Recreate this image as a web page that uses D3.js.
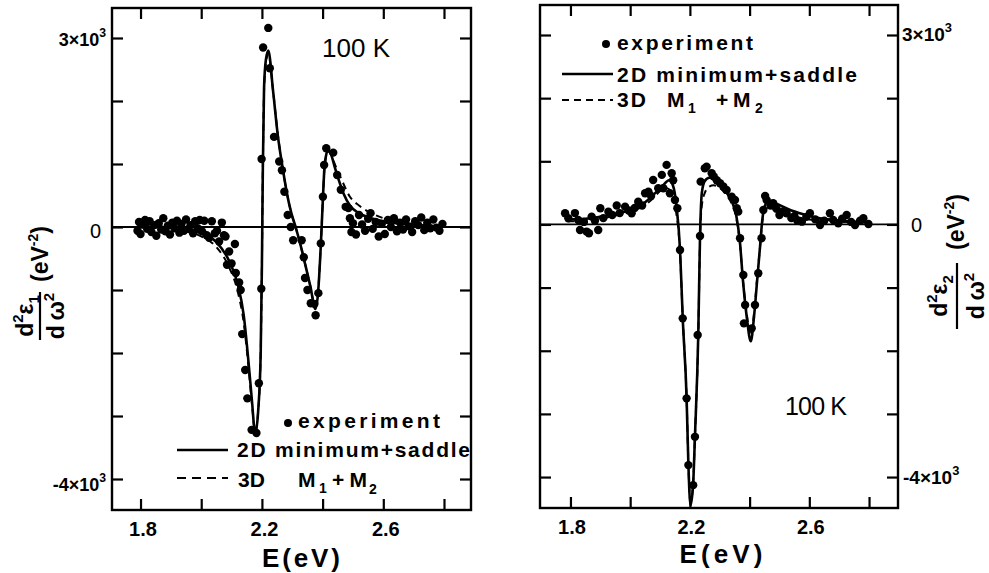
<!DOCTYPE html>
<html>
<head>
<meta charset="utf-8">
<script src="https://cdn.jsdelivr.net/npm/d3@7"></script>
<style>
  body { margin: 0; background: #fff; }
  svg { display: block; }
  text { font-family: "Liberation Sans", "DejaVu Sans", sans-serif; fill: #000; }
</style>
</head>
<body>
<div id="chart"></div>
<script>
// ---- data ----
// d2eps1/dw2, left panel: [E (eV), value (eV^-2)]
const eps1Exp = [
  [1.79,-60],[1.795,80],[1.80,-110],[1.808,40],[1.815,110],[1.822,-30],[1.83,90],[1.836,-80],
  [1.845,30],[1.852,-140],[1.86,60],[1.868,-40],[1.875,140],[1.882,-70],[1.89,20],[1.897,-120],
  [1.905,70],[1.912,-20],[1.92,100],[1.928,-90],[1.935,50],[1.943,-60],[1.95,120],[1.958,-30],
  [1.965,30],[1.973,-100],[1.98,90],[1.988,-20],[1.995,110],[2.003,-70],[2.01,100],[2.018,-130],
  [2.026,-170],[2.035,90],[2.045,-100],[2.052,-60],[2.059,-230],[2.068,70],[2.075,-130],
  [2.08,-150],[2.085,-600],[2.092,-390],[2.1,-580],[2.111,-270],[2.114,-730],[2.125,-880],
  [2.13,-1000],[2.135,-1700],[2.145,-2270],[2.152,-2720],[2.166,-3220],[2.182,-3270],
  [2.19,-2480],[2.198,-980],[2.199,1080],[2.204,2850],[2.221,3160],[2.226,2520],
  [2.24,1430],[2.257,1040],[2.266,900],[2.274,560],[2.285,190],[2.295,0],[2.303,-210],[2.331,-210],
  [2.338,-480],[2.342,-810],[2.35,-1000],[2.361,-1210],[2.373,-1220],[2.377,-1400],[2.386,-1050],
  [2.394,-260],[2.401,480],[2.405,985],[2.412,1250],[2.435,1180],[2.448,825],[2.46,590],
  [2.476,320],[2.485,300],[2.49,140],[2.495,-80],[2.5,60],[2.51,-120],[2.52,190],[2.53,40],
  [2.54,-60],[2.55,130],[2.558,220],[2.565,-30],[2.575,80],[2.585,-150],[2.595,50],[2.605,-110],
  [2.615,110],[2.625,0],[2.635,140],[2.645,-70],[2.655,70],[2.665,-40],[2.675,120],[2.685,10],
  [2.695,-80],[2.705,90],[2.715,30],[2.725,150],[2.735,-50],[2.745,70],[2.755,-20],[2.765,120],
  [2.775,-10],[2.785,-60],[2.795,50]
];
const eps1Fit2D = [
  [1.79,0],[1.85,0],[1.9,-10],[1.95,-40],[2.0,-100],[2.05,-240],[2.09,-520],[2.12,-900],
  [2.14,-1400],[2.155,-2100],[2.167,-2750],[2.178,-3280],[2.188,-2900],[2.196,-2000],[2.2,-600],
  [2.203,900],[2.207,2200],[2.213,2650],[2.221,2800],[2.237,2150],[2.253,1430],[2.268,950],
  [2.283,520],[2.297,220],[2.311,0],[2.327,-280],[2.343,-600],[2.36,-950],[2.376,-1300],
  [2.385,-1050],[2.394,-300],[2.401,450],[2.407,1000],[2.418,1220],[2.428,1150],[2.44,950],
  [2.455,720],[2.47,520],[2.49,340],[2.52,220],[2.56,140],[2.6,90],[2.65,55],[2.7,35],
  [2.75,20],[2.8,10]
];
const eps1Fit3D = [
  [1.79,0],[1.85,-10],[1.9,-25],[1.95,-65],[2.0,-150],[2.05,-320],[2.09,-620],[2.12,-1020],
  [2.14,-1520],[2.155,-2180],[2.167,-2800],[2.178,-3250],[2.188,-2900],[2.196,-2000],[2.2,-600],
  [2.203,900],[2.207,2150],[2.213,2600],[2.221,2750],[2.237,2150],[2.253,1450],[2.268,950],
  [2.283,520],[2.297,220],[2.311,0],[2.327,-280],[2.343,-600],[2.36,-950],[2.376,-1270],
  [2.385,-1030],[2.394,-300],[2.401,450],[2.407,980],[2.418,1200],[2.428,1150],[2.44,1000],
  [2.46,780],[2.49,480],[2.52,340],[2.56,220],[2.6,140],[2.65,85],[2.7,50],[2.75,35],[2.8,25]
];

// d2eps2/dw2, right panel
const eps2Exp = [
  [1.782,177],[1.793,98],[1.815,180],[1.826,71],[1.832,-87],[1.845,40],[1.854,-113],[1.862,-140],
  [1.871,124],[1.882,60],[1.893,-87],[1.9,257],[1.91,100],[1.927,203],[1.94,150],[1.955,300],
  [1.965,180],[1.983,282],[1.995,220],[2.005,177],[2.015,260],[2.027,361],[2.04,300],[2.05,494],
  [2.061,520],[2.07,450],[2.077,705],[2.094,574],[2.106,785],[2.111,574],[2.122,943],[2.133,494],
  [2.139,811],[2.144,700],[2.15,388],[2.158,257],[2.167,-404],[2.176,-1487],[2.189,-2754],
  [2.195,-3811],[2.211,-4128],[2.217,-3363],[2.226,-1751],[2.234,-182],[2.236,678],[2.25,890],
  [2.256,916],[2.273,811],[2.28,760],[2.29,700],[2.301,653],[2.312,600],[2.323,547],[2.34,441],
  [2.351,388],[2.357,257],[2.362,203],[2.368,-219],[2.379,-800],[2.385,-1276],[2.381,-1566],
  [2.407,-1645],[2.418,-1276],[2.429,-773],[2.44,-219],[2.446,230],[2.452,450],[2.457,388],
  [2.47,300],[2.479,336],[2.49,250],[2.5,150],[2.51,200],[2.524,177],[2.54,100],[2.55,130],
  [2.56,60],[2.575,44],[2.59,120],[2.602,177],[2.62,80],[2.636,-8],[2.65,60],[2.669,177],
  [2.68,70],[2.697,19],[2.71,90],[2.725,150],[2.74,40],[2.753,-8],[2.77,60],[2.781,98],[2.798,8]
];
const eps2Fit2D = [
  [1.79,80],[1.85,90],[1.9,120],[1.95,170],[2.0,230],[2.05,350],[2.08,480],[2.11,620],[2.13,700],
  [2.143,620],[2.155,300],[2.167,-400],[2.176,-1480],[2.189,-2750],[2.195,-3800],[2.202,-4450],
  [2.211,-4100],[2.217,-3350],[2.228,-1760],[2.234,-180],[2.24,500],[2.25,690],[2.265,740],
  [2.28,720],[2.3,640],[2.32,520],[2.34,370],[2.355,150],[2.367,-250],[2.378,-900],[2.39,-1450],
  [2.404,-1850],[2.415,-1450],[2.425,-900],[2.435,-350],[2.442,50],[2.45,280],[2.465,380],
  [2.49,330],[2.53,240],[2.58,160],[2.63,100],[2.7,60],[2.8,30]
];
const eps2Fit3D = [
  [1.79,50],[1.85,60],[1.9,90],[1.95,140],[2.0,200],[2.05,310],[2.08,430],[2.1,530],[2.12,580],
  [2.137,520],[2.152,250],[2.167,-450],[2.176,-1480],[2.189,-2750],[2.195,-3800],[2.202,-4400],
  [2.211,-4080],[2.217,-3350],[2.228,-1780],[2.234,-250],[2.24,300],[2.25,500],[2.265,600],
  [2.28,620],[2.3,580],[2.32,480],[2.34,330],[2.355,110],[2.367,-280],[2.378,-900],[2.39,-1400],
  [2.404,-1760],[2.415,-1400],[2.425,-860],[2.435,-350],[2.442,20],[2.45,200],[2.46,260],
  [2.5,200],[2.55,130],[2.6,80],[2.7,45],[2.8,20]
];

const xTicks = [1.8, 2.0, 2.2, 2.4, 2.6, 2.8];
const xTickLabels = ["1.8", "", "2.2", "", "2.6", ""];
const yTicks = [-4000, -3000, -2000, -1000, 0, 1000, 2000, 3000];

const svg = d3.select("#chart")
  .append("svg")
  .attr("width", 989)
  .attr("height", 573);

function addText(g, x, y, str, size, opts = {}) {
  const t = g.append("text")
    .attr("x", x).attr("y", y)
    .attr("font-size", size)
    .attr("font-weight", opts.weight || "bold")
    .attr("text-anchor", opts.anchor || "start")
    .text(str);
  if (opts.len) t.attr("textLength", opts.len).attr("lengthAdjust", "spacing");
  return t;
}

// "3x10^3" style label
function sciLabel(g, x, y, mant, anchor, size) {
  const t = g.append("text")
    .attr("x", x).attr("y", y)
    .attr("font-size", size)
    .attr("font-weight", "bold")
    .attr("text-anchor", anchor);
  t.append("tspan").text(mant + "\u00d710");
  t.append("tspan").attr("dy", -9).attr("font-size", size * 0.68).text("3");
}

function panel(cfg) {
  const g = svg.append("g");
  const x = d3.scaleLinear().domain(cfg.xDomain).range([cfg.left, cfg.right]);
  const y = d3.scaleLinear().domain(cfg.yDomain).range([cfg.bottom, cfg.top]);

  // axes, ticks pointing inward on all four sides
  g.append("g").attr("class", "axis")
    .attr("transform", `translate(0,${cfg.bottom})`)
    .call(d3.axisBottom(x).tickValues(xTicks).tickSize(-11).tickSizeOuter(0)
      .tickPadding(12).tickFormat((d, i) => xTickLabels[i]));
  g.append("g").attr("class", "axis")
    .attr("transform", `translate(0,${cfg.top})`)
    .call(d3.axisTop(x).tickValues(xTicks).tickSize(-11).tickSizeOuter(0).tickFormat(""));
  g.append("g").attr("class", "axis")
    .attr("transform", `translate(${cfg.left},0)`)
    .call(d3.axisLeft(y).tickValues(yTicks).tickSize(-11).tickSizeOuter(0).tickFormat(""));
  g.append("g").attr("class", "axis")
    .attr("transform", `translate(${cfg.right},0)`)
    .call(d3.axisRight(y).tickValues(yTicks).tickSize(-11).tickSizeOuter(0).tickFormat(""));

  g.selectAll(".axis .domain").remove();
  g.selectAll(".axis line").attr("stroke", "#000").attr("stroke-width", 2.2);
  g.selectAll(".axis text")
    .attr("font-size", 20)
    .attr("font-weight", "bold")
    .attr("font-family", "Liberation Sans, DejaVu Sans, sans-serif")
    .attr("dx", cfg.xLabelShift);

  g.append("rect")
    .attr("x", cfg.left).attr("y", cfg.top)
    .attr("width", cfg.right - cfg.left).attr("height", cfg.bottom - cfg.top)
    .attr("fill", "none").attr("stroke", "#000").attr("stroke-width", 2.4);

  // zero line
  g.append("line")
    .attr("x1", cfg.left).attr("x2", cfg.right)
    .attr("y1", y(0)).attr("y2", y(0))
    .attr("stroke", "#000").attr("stroke-width", 1.8);

  const line = d3.line()
    .x(d => x(d[0]))
    .y(d => y(d[1]))
    .curve(d3.curveMonotoneX);

  g.append("path").datum(cfg.fit3D)
    .attr("d", line).attr("fill", "none")
    .attr("stroke", "#000").attr("stroke-width", 2)
    .attr("stroke-dasharray", "7,5");

  g.append("path").datum(cfg.fit2D)
    .attr("d", line).attr("fill", "none")
    .attr("stroke", "#000").attr("stroke-width", 2.6);

  g.selectAll(".pt").data(cfg.exp).enter()
    .append("circle").attr("class", "pt")
    .attr("cx", d => x(d[0]))
    .attr("cy", d => y(d[1]))
    .attr("r", 4.2)
    .attr("fill", "#000");

  return { g, x, y };
}

// fraction-style axis title, rotated -90deg
function yTitle(g, cu, vNum, vBar, vDen, barHalf, unitU, unitV, sub) {
  const t = g.append("g").attr("transform", "rotate(-90)");
  const n = t.append("text").attr("x", cu).attr("y", vNum).attr("font-size", 23)
    .attr("font-weight", "bold").attr("text-anchor", "middle");
  n.append("tspan").text("d");
  n.append("tspan").attr("dy", -10).attr("font-size", 15).text("2");
  n.append("tspan").attr("dy", 10).text("\u03b5");
  n.append("tspan").attr("dy", 6).attr("font-size", 15).text(sub);
  t.append("line").attr("x1", cu - barHalf).attr("x2", cu + barHalf)
    .attr("y1", vBar).attr("y2", vBar)
    .attr("stroke", "#000").attr("stroke-width", 2.2);
  const d = t.append("text").attr("x", cu).attr("y", vDen).attr("font-size", 23)
    .attr("font-weight", "bold").attr("text-anchor", "middle");
  d.append("tspan").text("d\u2009\u03c9");
  d.append("tspan").attr("dy", -10).attr("font-size", 15).text("2");
  const u = t.append("text").attr("x", unitU).attr("y", unitV).attr("font-size", 23)
    .attr("font-weight", "bold");
  u.append("tspan").text("(eV");
  u.append("tspan").attr("dy", -10).attr("font-size", 14).text("-2");
  u.append("tspan").attr("dy", 10).text(")");
}

// ---- left panel ----
const L = panel({
  left: 112, right: 471, top: 8, bottom: 510,
  xDomain: [1.706, 2.889], yDomain: [-4492, 3476],
  exp: eps1Exp, fit2D: eps1Fit2D, fit3D: eps1Fit3D, xLabelShift: 2
});
sciLabel(L.g, 106, L.y(3000) + 8, "3", "end", 18);
addText(L.g, 101, L.y(0) + 11, "0", 20, { anchor: "end", weight: "normal" });
sciLabel(L.g, 106, L.y(-4000) + 12, "-4", "end", 18);
addText(L.g, 301, 567, "E(eV)", 26, { anchor: "middle", len: 78 });
addText(L.g, 322, 57, "100 K", 26, { weight: "normal", len: 68 });

// legend (lower right)
L.g.append("circle").attr("cx", 288).attr("cy", 423).attr("r", 4).attr("fill", "#000");
addText(L.g, 298, 428, "experiment", 21, { len: 142 });
L.g.append("line").attr("x1", 177).attr("x2", 228).attr("y1", 450).attr("y2", 450)
  .attr("stroke", "#000").attr("stroke-width", 2.4);
addText(L.g, 237, 457, "2D minimum+saddle", 21, { len: 233 });
L.g.append("line").attr("x1", 177).attr("x2", 228).attr("y1", 478).attr("y2", 478)
  .attr("stroke", "#000").attr("stroke-width", 2.2).attr("stroke-dasharray", "9,6");
addText(L.g, 238, 487, "3D", 21);
addText(L.g, 298, 487, "M", 21);
addText(L.g, 319, 493, "1", 14);
addText(L.g, 332, 487, "+M", 21, { len: 35 });
addText(L.g, 369, 494, "2", 14);

yTitle(L.g, -316, 33, 40, 64, 24, -282, 48, "1");

// ---- right panel ----
const R = panel({
  left: 540, right: 898, top: 5, bottom: 508,
  xDomain: [1.698, 2.897], yDomain: [-4490, 3475],
  exp: eps2Exp, fit2D: eps2Fit2D, fit3D: eps2Fit3D, xLabelShift: 1
});
sciLabel(R.g, 902, R.y(3000) + 6, "3", "start", 19);
addText(R.g, 911, R.y(0) + 8, "0", 20, { weight: "normal" });
sciLabel(R.g, 903, R.y(-4000) + 7, "-4", "start", 19);
addText(R.g, 721, 563, "E(eV)", 26, { anchor: "middle", len: 83 });
addText(R.g, 785, 415, "100 K", 25, { weight: "normal", len: 62 });

// legend (upper left)
R.g.append("circle").attr("cx", 606).attr("cy", 44).attr("r", 4).attr("fill", "#000");
addText(R.g, 617, 50, "experiment", 21, { len: 136 });
R.g.append("line").attr("x1", 562).attr("x2", 613).attr("y1", 74).attr("y2", 74)
  .attr("stroke", "#000").attr("stroke-width", 2.4);
addText(R.g, 617, 82, "2D minimum+saddle", 21, { len: 240 });
R.g.append("line").attr("x1", 562).attr("x2", 613).attr("y1", 100).attr("y2", 100)
  .attr("stroke", "#000").attr("stroke-width", 2.2).attr("stroke-dasharray", "7,5");
addText(R.g, 617, 107, "3D", 21, { len: 29 });
addText(R.g, 667, 107, "M", 21);
addText(R.g, 688, 113, "1", 14);
addText(R.g, 716, 107, "+", 21);
addText(R.g, 733, 107, "M", 21);
addText(R.g, 755, 113, "2", 14);

yTitle(R.g, -296, 947, 957, 984, 33, -250, 964, "2");
</script>
</body>
</html>
